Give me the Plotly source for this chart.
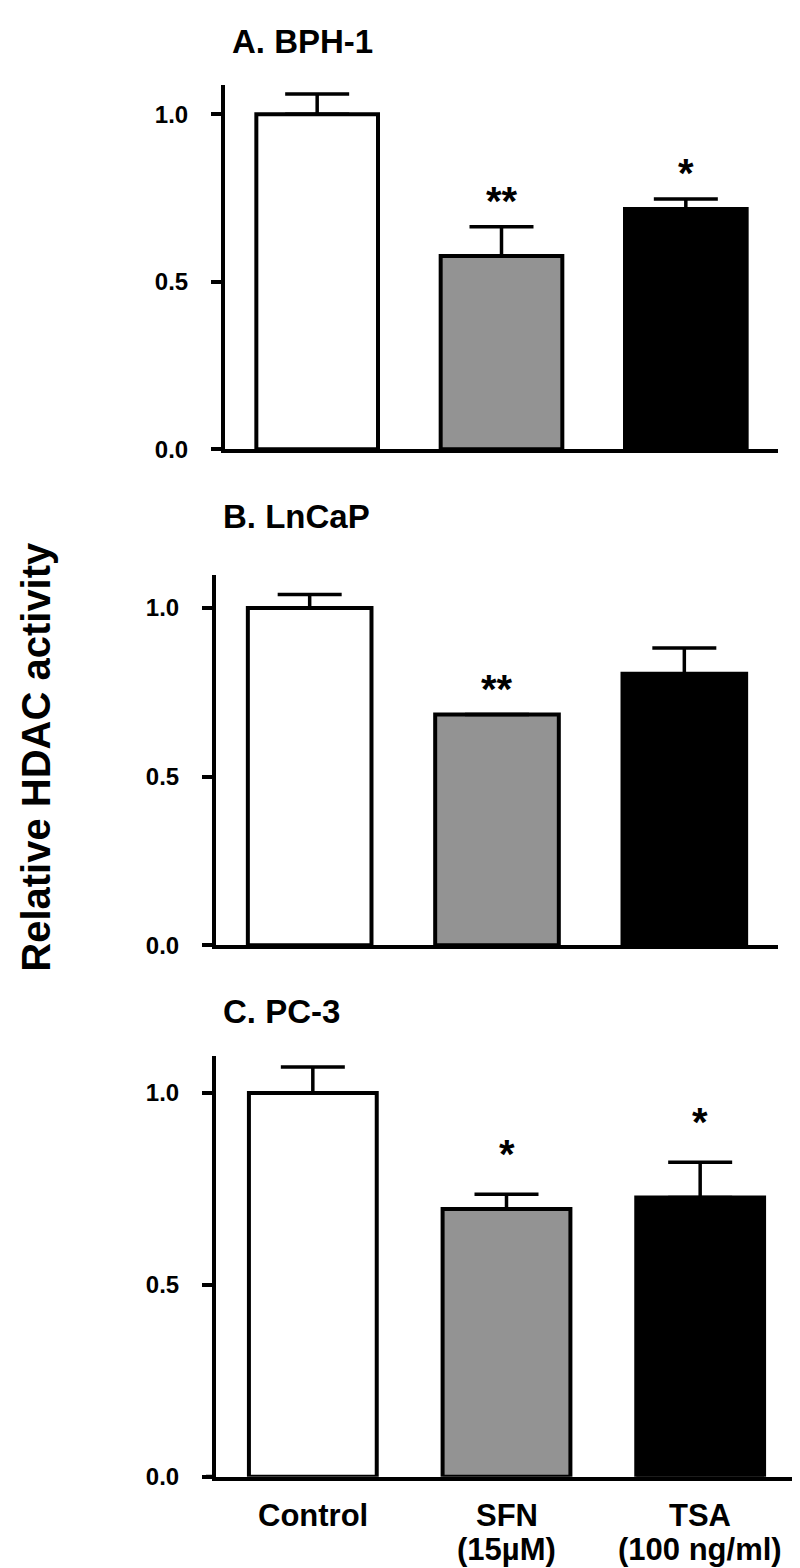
import plotly.graph_objects as go

# ---------------- data ----------------
categories = ["Control", "SFN", "TSA"]
cat_line1 = ["Control", "SFN", "TSA"]
cat_line2 = ["", "(15\u00b5M)", "(100 ng/ml)"]
panel_titles = ["A. BPH-1", "B. LnCaP", "C. PC-3"]
y_title = "Relative HDAC activity"

bph1_mean = [1.00, 0.577, 0.717]
bph1_err = [0.06, 0.087, 0.03]
bph1_sig = ["", "**", "*"]

lncap_mean = [1.00, 0.684, 0.805]
lncap_err = [0.04, 0.0, 0.076]
lncap_sig = ["", "**", ""]

pc3_mean = [1.00, 0.698, 0.728]
pc3_err = [0.068, 0.038, 0.092]
pc3_sig = ["", "*", "*"]

ytick_vals = [0.0, 0.5, 1.0]
ytick_text = ["0.0", "0.5", "1.0"]

# ---------------- styling ----------------
W, H = 800, 1568
bar_colors = ["white", "#939393", "black"]
FONT = "Liberation Sans, Arial, sans-serif"

# panels: (xdomain px left,right), (ydomain px bottom,top), y top value
panels = [
    dict(mean=bph1_mean, err=bph1_err, sig=bph1_sig, x=(217, 770), y=(445, 78), ytop=1.086, star_shift=2, axis_ext=10),
    dict(mean=lncap_mean, err=lncap_err, sig=lncap_sig, x=(208, 770), y=(945, 572), ytop=1.097, star_shift=2, axis_ext=10),
    dict(mean=pc3_mean, err=pc3_err, sig=pc3_sig, x=(208, 789), y=(1481, 1057), ytop=1.096, star_shift=16, axis_ext=10),
]

fig = go.Figure()
annotations = []
shapes = []
layout = {}

for i, p in enumerate(panels, start=1):
    xa = "x" if i == 1 else f"x{i}"
    ya = "y" if i == 1 else f"y{i}"
    fig.add_trace(go.Bar(
        x=categories, y=p["mean"],
        width=0.66,
        marker=dict(color=bar_colors, line=dict(color="black", width=4)),
        error_y=dict(type="data", array=p["err"], arrayminus=[0, 0, 0], symmetric=False,
                     visible=True, color="black", thickness=3.5, width=32),
        xaxis=xa, yaxis=ya, showlegend=False, hoverinfo="skip",
    ))
    xkey = "xaxis" if i == 1 else f"xaxis{i}"
    ykey = "yaxis" if i == 1 else f"yaxis{i}"
    layout[xkey] = dict(
        domain=[p["x"][0] / W, p["x"][1] / W],
        anchor=ya, type="category", categoryorder="array", categoryarray=categories,
        range=[-0.5, 2.5], showline=True, linewidth=4, linecolor="black",
        ticks="", showticklabels=False, showgrid=False, zeroline=False, fixedrange=True,
    )
    layout[ykey] = dict(
        domain=[1 - p["y"][0] / H, 1 - p["y"][1] / H],
        anchor=xa, range=[0, p["ytop"]], showline=True, linewidth=4, linecolor="black",
        ticks="outside", ticklen=10, tickwidth=4, tickcolor="black",
        tickvals=ytick_vals, ticktext=ytick_text,
        tickfont=dict(family=FONT, size=24, color="black", weight="bold"),
        ticklabelstandoff=18,
        showgrid=False, zeroline=False, fixedrange=True,
    )
    # small extension of the x-axis line to the left of the y-axis
    shapes.append(dict(
        type="line", xref="paper", yref=ya,
        x0=(p["x"][0] - p["axis_ext"]) / W, x1=p["x"][0] / W, y0=0, y1=0,
        line=dict(color="black", width=4),
    ))
    # significance stars
    for c, m, e, s in zip(categories, p["mean"], p["err"], p["sig"]):
        if s:
            annotations.append(dict(
                x=c, y=m + e, xref=xa, yref=ya, text=s, showarrow=False,
                yanchor="bottom", yshift=p["star_shift"],
                font=dict(family=FONT, size=40, color="black", weight="bold"),
            ))

# panel titles
title_pos = [(222, 34), (213, 513), (213, 1012)]
for t, (tx, ty) in zip(panel_titles, title_pos):
    annotations.append(dict(
        x=tx / W, y=1 - ty / H, xref="paper", yref="paper", text=t, showarrow=False,
        xanchor="left", yanchor="middle",
        font=dict(family=FONT, size=33, color="black", weight="bold"),
    ))

# category labels below bottom panel
for c, l1, l2 in zip(categories, cat_line1, cat_line2):
    annotations.append(dict(
        x=c, y=1 - 1520 / H, xref="x3", yref="paper", text=l1, showarrow=False,
        yanchor="middle", borderpad=0,
        font=dict(family=FONT, size=31, color="black", weight="bold"),
    ))
    if l2:
        annotations.append(dict(
            x=c, y=1 - 1554 / H, xref="x3", yref="paper", text=l2, showarrow=False,
            yanchor="middle", borderpad=0,
            font=dict(family=FONT, size=31, color="black", weight="bold"),
        ))

# y-axis title
annotations.append(dict(
    x=28 / W, y=1 - 755 / H, xref="paper", yref="paper", text=y_title, showarrow=False,
    textangle=-90, xanchor="center", yanchor="middle",
    font=dict(family=FONT, size=40, color="black", weight="bold"),
))

fig.update_layout(
    width=W, height=H, margin=dict(l=0, r=0, t=0, b=0),
    paper_bgcolor="white", plot_bgcolor="white",
    annotations=annotations, shapes=shapes, bargap=0.34,
    **layout,
)

fig.write_html("out.html")
